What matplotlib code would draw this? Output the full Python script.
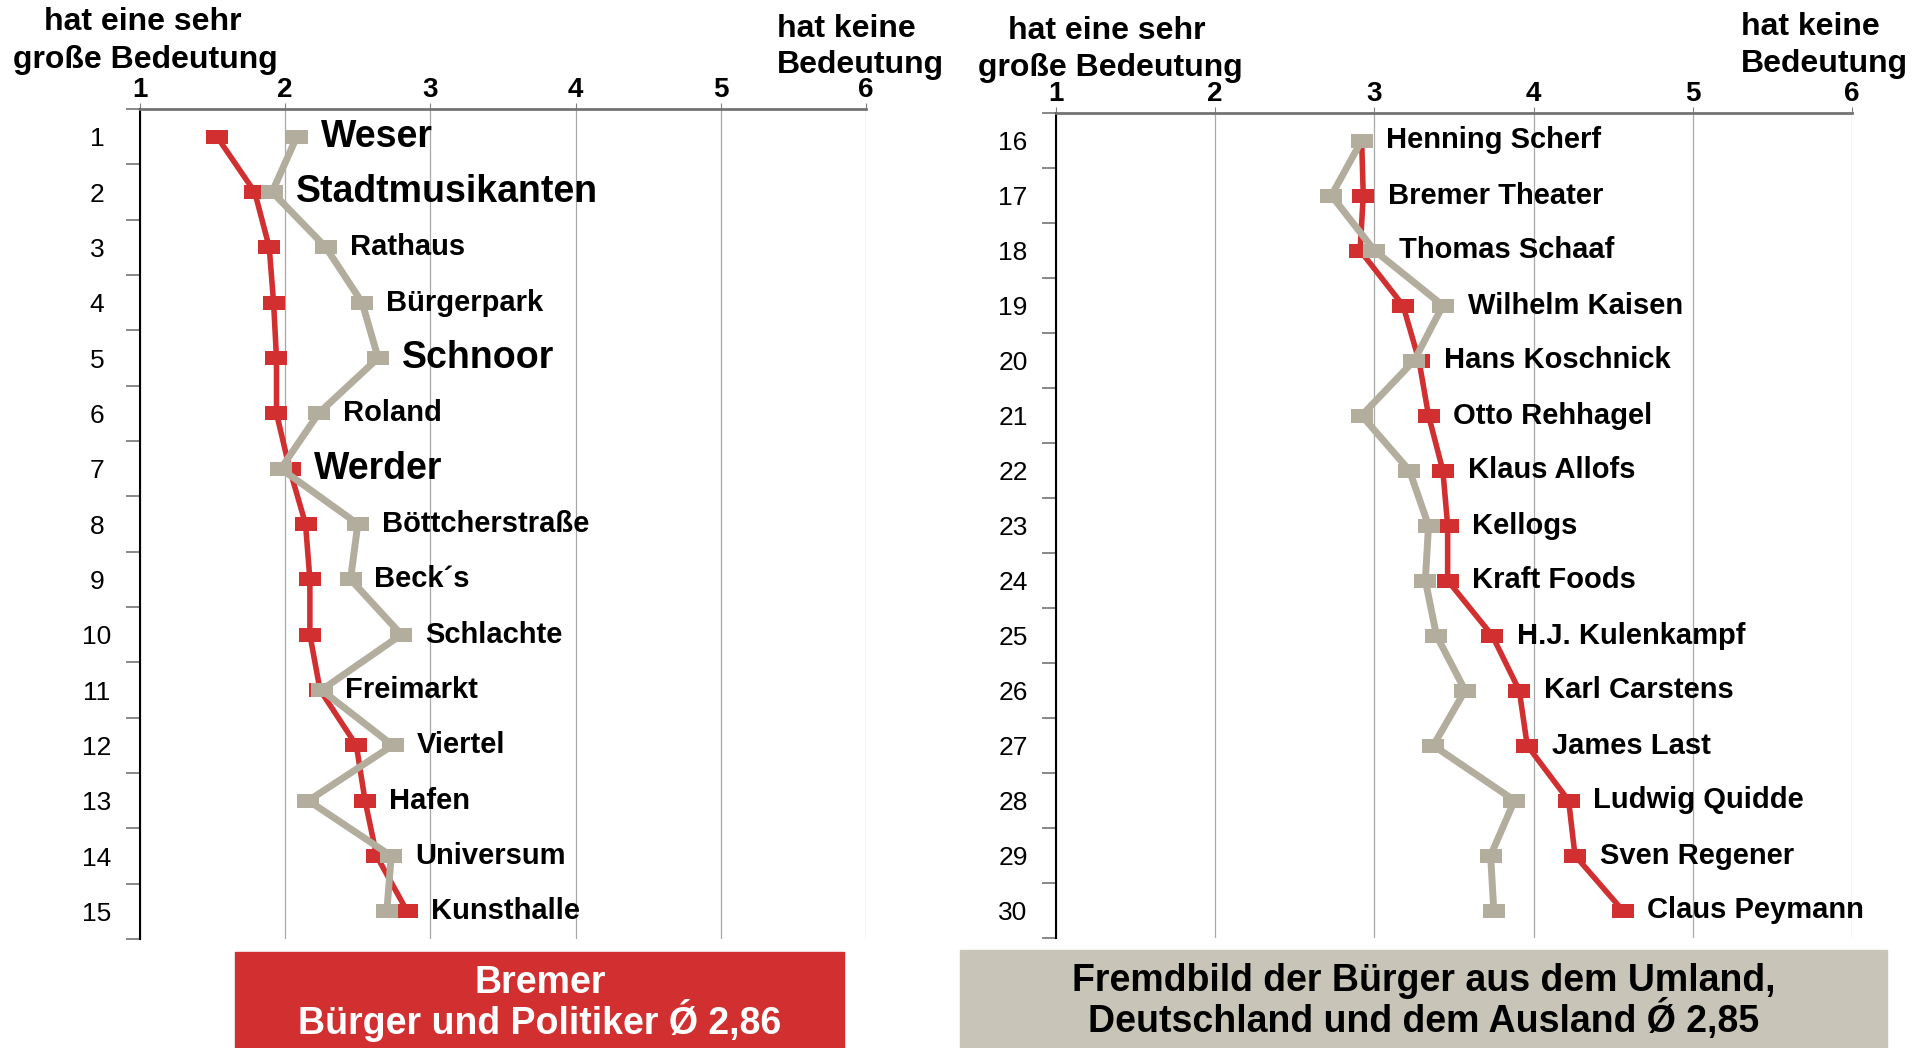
import matplotlib.pyplot as plt
from matplotlib.patches import Rectangle

plt.rcParams["font.family"] = ["Liberation Sans", "DejaVu Sans"]

W, H = 1923, 1048

RED = "#D22F30"
GREY = "#B2AD9D"
BOX_GREY = "#C8C4B8"

# Bremer Buerger und Politiker (rot) / Fremdbild Umland (grau), Skala 1..6
rows_left = list(range(1, 16))
labels_left = ["Weser", "Stadtmusikanten", "Rathaus", "Bürgerpark", "Schnoor",
               "Roland", "Werder", "Böttcherstraße", "Beck´s", "Schlachte",
               "Freimarkt", "Viertel", "Hafen", "Universum", "Kunsthalle"]
bremer_left = [1.53, 1.79, 1.89, 1.92, 1.94, 1.94, 2.03, 2.14, 2.17, 2.17,
               2.24, 2.49, 2.55, 2.63, 2.84]
umland_left = [2.08, 1.91, 2.28, 2.53, 2.64, 2.23, 1.97, 2.50, 2.45, 2.80,
               2.25, 2.74, 2.16, 2.73, 2.70]

rows_right = list(range(16, 31))
labels_right = ["Henning Scherf", "Bremer Theater", "Thomas Schaaf",
                "Wilhelm Kaisen", "Hans Koschnick", "Otto Rehhagel",
                "Klaus Allofs", "Kellogs", "Kraft Foods", "H.J. Kulenkampf",
                "Karl Carstens", "James Last", "Ludwig Quidde", "Sven Regener",
                "Claus Peymann"]
bremer_right = [2.92, 2.93, 2.91, 3.18, 3.28, 3.34, 3.43, 3.46, 3.46, 3.74,
                3.91, 3.96, 4.22, 4.26, 4.56]
umland_right = [2.92, 2.73, 3.00, 3.43, 3.25, 2.92, 3.22, 3.34, 3.32, 3.39,
                3.57, 3.37, 3.88, 3.73, 3.75]

big_labels = {"Weser", "Stadtmusikanten", "Schnoor", "Werder"}
scale_ticks = [1, 2, 3, 4, 5, 6]

RECT = [(-1, -0.6), (1, -0.6), (1, 0.6), (-1, 0.6), (-1, -0.6)]


def px_box(x0, y0, x1, y1):
    # pixel box (top-left origin) -> figure fraction [left, bottom, width, height]
    return [x0 / W, 1 - y1 / H, (x1 - x0) / W, (y1 - y0) / H]


def ftext(x, y, s, **kw):
    fig.text(x / W, 1 - y / H, s, **kw)


def draw_panel(ax, rows, labels, red, grey, label_off):
    ax.plot(red, rows, color=RED, lw=4, marker=RECT, ms=16, mew=0, zorder=3)
    ax.plot(grey, rows, color=GREY, lw=5, marker=RECT, ms=16, mew=0, zorder=4)

    for r, lab, a, b in zip(rows, labels, red, grey):
        size = 27 if lab in big_labels else 21
        ax.text(max(a, b) + label_off, r, lab, fontsize=size, fontweight="bold",
                ha="left", va="center", zorder=5)

    ax.set_xlim(1, 6)
    ax.set_ylim(rows[-1] + 0.5, rows[0] - 0.5)

    ax.xaxis.tick_top()
    ax.set_xticks(scale_ticks)
    ax.set_xticklabels([str(t) for t in scale_ticks], fontsize=20, fontweight="bold")
    ax.tick_params(axis="x", direction="out", length=4, color="#808080", pad=0)
    ax.grid(axis="x", color="#A8A8A8", lw=0.9)
    ax.set_axisbelow(True)

    ax.set_yticks(rows)
    ax.set_yticklabels([str(r) for r in rows], fontsize=19, ha="center")
    ax.set_yticks([r - 0.5 for r in rows] + [rows[-1] + 0.5], minor=True)
    ax.tick_params(axis="y", which="major", length=0, pad=31)
    ax.tick_params(axis="y", which="minor", length=10, width=1.3, color="#7F7F7F")

    for side in ("right", "bottom"):
        ax.spines[side].set_visible(False)
    ax.spines["left"].set_color("black")
    ax.spines["left"].set_linewidth(1.5)
    ax.spines["top"].set_color("#737373")
    ax.spines["top"].set_linewidth(2)


fig = plt.figure(figsize=(W / 100, H / 100), dpi=100)

ax_l = fig.add_axes(px_box(140, 109, 866, 939))
draw_panel(ax_l, rows_left, labels_left, bremer_left, umland_left, 0.165)

ax_r = fig.add_axes(px_box(1056, 113, 1852, 938))
draw_panel(ax_r, rows_right, labels_right, bremer_right, umland_right, 0.155)

# Achsen-Beschriftung oben
head = dict(fontsize=23, fontweight="bold", va="baseline")
ftext(143, 30, "hat eine sehr", ha="center", **head)
ftext(145, 68, "große Bedeutung", ha="center", **head)
ftext(777, 37, "hat keine", ha="left", **head)
ftext(777, 73, "Bedeutung", ha="left", **head)

ftext(1107, 39, "hat eine sehr", ha="center", **head)
ftext(1110, 76, "große Bedeutung", ha="center", **head)
ftext(1741, 35, "hat keine", ha="left", **head)
ftext(1741, 72, "Bedeutung", ha="left", **head)

# Legendenkaesten
fig.patches.append(Rectangle((235 / W, 0), (844 - 235) / W, 1 - 952 / H,
                             transform=fig.transFigure, color=RED, zorder=0))
fig.patches.append(Rectangle((960 / W, 0), (1887 - 960) / W, 1 - 950 / H,
                             transform=fig.transFigure, color=BOX_GREY, zorder=0))

box = dict(fontsize=27, fontweight="bold", ha="center", va="center")
ftext(540, 983, "Bremer", color="white", **box)
ftext(540, 1021, "Bürger und Politiker Ǿ 2,86", color="white", **box)
ftext(1424, 981, "Fremdbild der Bürger aus dem Umland,", color="black", **box)
ftext(1424, 1020, "Deutschland und dem Ausland Ǿ 2,85", color="black", **box)

fig.savefig("out.png", dpi=100)
